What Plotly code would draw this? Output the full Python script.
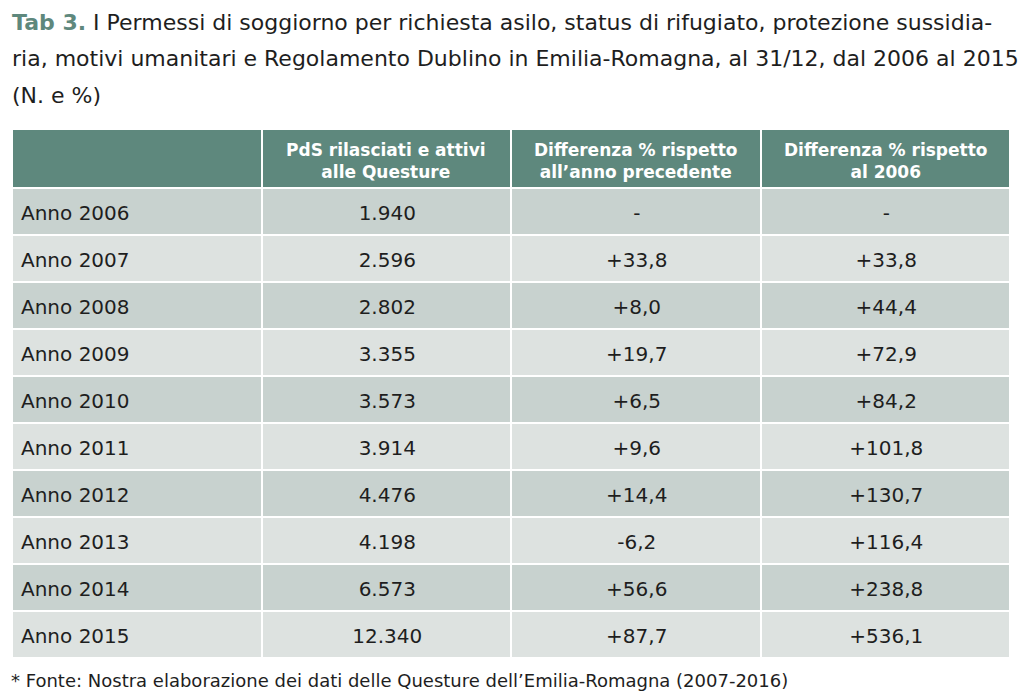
import plotly.graph_objects as go

years = ["Anno 2006", "Anno 2007", "Anno 2008", "Anno 2009", "Anno 2010",
         "Anno 2011", "Anno 2012", "Anno 2013", "Anno 2014", "Anno 2015"]
pds = ["1.940", "2.596", "2.802", "3.355", "3.573", "3.914", "4.476", "4.198", "6.573", "12.340"]
diff_prev = ["-", "+33,8", "+8,0", "+19,7", "+6,5", "+9,6", "+14,4", "-6,2", "+56,6", "+87,7"]
diff_2006 = ["-", "+33,8", "+44,4", "+72,9", "+84,2", "+101,8", "+130,7", "+116,4", "+238,8", "+536,1"]
headers = ["", "PdS rilasciati e attivi<br>alle Questure",
           "Differenza % rispetto<br>all’anno precedente",
           "Differenza % rispetto<br>al 2006"]

W, H = 1024, 693
teal = "#5e887d"
odd = "#c8d2cf"
even = "#dde2e0"
FONT = "DejaVu Sans"
TXT = "#1e1e1e"
CLEAR = "rgba(0,0,0,0)"

X0, X1 = 12, 1010
TOP = 129
HEAD_H = 59
ROW_H = 47
ncol = len(headers)

row_colors = [odd if i % 2 == 0 else even for i in range(len(years))]
blank = [[""] * len(years)] * ncol

# background table: fills and white grid lines
fig = go.Figure(go.Table(
    domain=dict(x=[X0 / W, X1 / W], y=[0, 1 - TOP / H]),
    columnwidth=[1] * ncol,
    header=dict(values=[""] * ncol, fill_color=teal, height=HEAD_H,
                line=dict(color="white", width=2)),
    cells=dict(values=blank, fill_color=[row_colors] * ncol, height=ROW_H,
               line=dict(color="white", width=2)),
))

# text table, nudged down to centre text vertically in the rows
SHIFT = 9
fig.add_trace(go.Table(
    domain=dict(x=[(X0 + 1) / W, (X1 + 1) / W], y=[0, 1 - (TOP + SHIFT) / H]),
    columnwidth=[1] * ncol,
    header=dict(values=[""] * ncol, fill_color=CLEAR, height=HEAD_H,
                line=dict(color=CLEAR, width=0)),
    cells=dict(values=[years, pds, diff_prev, diff_2006],
               fill_color=CLEAR, height=ROW_H,
               line=dict(color=CLEAR, width=0),
               align=["left", "center", "center", "center"],
               font=dict(family=FONT, size=20, color=TXT)),
))

# header labels, centred line by line
col_w = (X1 - X0) / ncol
for k, h in enumerate(headers):
    if not h:
        continue
    cx = X0 + col_w * (k + 0.5)
    fig.add_annotation(text=h, xref="paper", yref="paper", x=cx / W,
                       y=1 - (TOP + HEAD_H / 2 + 2) / H,
                       xanchor="center", yanchor="middle", showarrow=False, align="center",
                       font=dict(family=FONT, size=17, color="white", weight="bold"))

title_lines = [
    f"<b><span style='color:{teal}'>Tab 3.</span></b> I Permessi di soggiorno per richiesta asilo, status di rifugiato, protezione sussidia-",
    "ria, motivi umanitari e Regolamento Dublino in Emilia-Romagna, al 31/12, dal 2006 al 2015",
    "(N. e %)",
]
for i, t in enumerate(title_lines):
    fig.add_annotation(text=t, xref="paper", yref="paper", x=10 / W, y=1 - (22 + 36.5 * i) / H,
                       xanchor="left", yanchor="middle", showarrow=False, align="left",
                       font=dict(family=FONT, size=22, color=TXT))

fig.add_annotation(text="* Fonte: Nostra elaborazione dei dati delle Questure dell’Emilia-Romagna (2007-2016)",
                   xref="paper", yref="paper", x=9 / W, y=1 - 680 / H,
                   xanchor="left", yanchor="middle", showarrow=False,
                   font=dict(family=FONT, size=18, color=TXT))

fig.update_layout(width=W, height=H, margin=dict(l=0, r=0, t=0, b=0),
                  paper_bgcolor="white", plot_bgcolor="white")
fig.write_html("out.html", config={"displayModeBar": False},
               post_script="document.body.style.margin='0px';")
